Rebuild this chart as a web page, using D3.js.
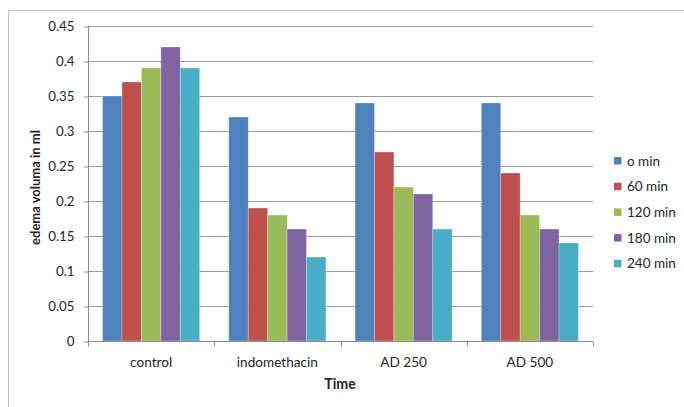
<!DOCTYPE html>
<html>
<head>
<meta charset="utf-8">
<script src="https://cdn.jsdelivr.net/npm/d3@7"></script>
<style>
  html, body { margin: 0; padding: 0; background: #fff; }
  svg { display: block; }
  text { font-family: Lato, "Open Sans", "Liberation Sans", sans-serif; fill: #262626; }
</style>
</head>
<body>
<svg id="chart" width="684" height="407"></svg>
<script>
// Edema volume per treatment group, measured at five time points
const groups = ["control", "indomethacin", "AD 250", "AD 500"];
const seriesNames = ["o min", "60 min", "120 min", "180 min", "240 min"];
const seriesColors = ["#4F81BD", "#C0504D", "#9BBB59", "#8064A2", "#4BACC6"];
const min0 = [0.35, 0.32, 0.34, 0.34];
const min60 = [0.37, 0.19, 0.27, 0.24];
const min120 = [0.39, 0.18, 0.22, 0.18];
const min180 = [0.42, 0.16, 0.21, 0.16];
const min240 = [0.39, 0.12, 0.16, 0.14];
const yTicks = [0, 0.05, 0.1, 0.15, 0.2, 0.25, 0.3, 0.35, 0.4, 0.45];

const seriesValues = [min0, min60, min120, min180, min240];

const svg = d3.select("#chart");

// outer chart frame (runs off the right and bottom edges)
svg.append("rect")
  .attr("x", 8.5).attr("y", 10.5)
  .attr("width", 700).attr("height", 420)
  .attr("fill", "#fff").attr("stroke", "#bcbcbc");

const plot = { left: 88, right: 593, top: 26, bottom: 341 };

const x0 = d3.scaleBand().domain(groups).range([plot.left, plot.right]).padding(0);
const gapFrac = 1.5 / (seriesNames.length + 1.5) / 2;
const x1 = d3.scaleBand().domain(seriesNames)
  .range([x0.bandwidth() * gapFrac, x0.bandwidth() * (1 - gapFrac)]).padding(0);
const y = d3.scaleLinear().domain([0, 0.45]).range([plot.bottom, plot.top]);

// horizontal gridlines
svg.append("g").selectAll("line")
  .data(yTicks.filter(d => d > 0))
  .join("line")
  .attr("x1", plot.left).attr("x2", plot.right)
  .attr("y1", d => Math.round(y(d)) + 0.5).attr("y2", d => Math.round(y(d)) + 0.5)
  .attr("stroke", "#9a9a9a").attr("stroke-width", 1);

// bars
const gGroups = svg.append("g").selectAll("g")
  .data(groups)
  .join("g")
  .attr("transform", d => `translate(${x0(d)},0)`);

gGroups.selectAll("rect")
  .data((g, gi) => seriesNames.map((s, si) => ({ s, si, v: seriesValues[si][gi] })))
  .join("rect")
  .attr("x", d => x1(d.s))
  .attr("y", d => y(d.v))
  .attr("width", x1.bandwidth())
  .attr("height", d => y(0) - y(d.v))
  .attr("fill", d => seriesColors[d.si])
  .attr("stroke", "rgba(255,255,255,0.35)")
  .attr("stroke-width", 0.8);

// y axis
const yAxis = d3.axisLeft(y).tickValues(yTicks)
  .tickFormat(d => d === 0 ? "0" : String(+d.toFixed(2)))
  .tickSize(5).tickPadding(9);
const gy = svg.append("g")
  .attr("transform", `translate(${plot.left + 0.5},0)`)
  .call(yAxis);
gy.selectAll(".tick line").attr("stroke", "#8c8c8c").attr("transform", "translate(0,0.5)");
gy.select(".domain").attr("stroke", "#8c8c8c").attr("d", `M0,${plot.top}V${plot.bottom + 5}`);
gy.selectAll("text").attr("font-size", 13.3).attr("fill", "#262626")
  .attr("font-family", 'Lato, "Open Sans", sans-serif');

// x axis with category boundary ticks
const gx = svg.append("g").attr("transform", `translate(0,${plot.bottom + 0.5})`);
gx.append("line")
  .attr("x1", plot.left).attr("x2", plot.right)
  .attr("stroke", "#8c8c8c");
const bounds = groups.map(g => x0(g)).concat([plot.right]);
gx.selectAll("line.b").data(bounds).join("line").attr("class", "b")
  .attr("x1", d => Math.round(d) + 0.5).attr("x2", d => Math.round(d) + 0.5)
  .attr("y1", 0).attr("y2", 5)
  .attr("stroke", "#8c8c8c");
gx.selectAll("text").data(groups).join("text")
  .attr("x", d => x0(d) + x0.bandwidth() / 2)
  .attr("y", 25.5)
  .attr("text-anchor", "middle")
  .attr("font-size", 13.6)
  .text(d => d);

// axis titles
svg.append("text")
  .attr("x", (plot.left + plot.right) / 2 - 0.5)
  .attr("y", 389)
  .attr("text-anchor", "middle")
  .attr("font-size", 14.2).attr("font-weight", "bold")
  .text("Time");
svg.append("text")
  .attr("transform", `translate(39.5,${(plot.top + plot.bottom) / 2 + 4}) rotate(-90)`)
  .attr("text-anchor", "middle")
  .attr("font-size", 13).attr("font-weight", "bold")
  .text("edema voluma in ml");

// legend
const legend = svg.append("g").attr("transform", "translate(614,157)");
const items = legend.selectAll("g").data(seriesNames).join("g")
  .attr("transform", (d, i) => `translate(0,${i * 25.7})`);
items.append("rect")
  .attr("width", 7.5).attr("height", 7.5)
  .attr("fill", (d, i) => seriesColors[i]);
items.append("text")
  .attr("x", 13).attr("y", 8.5)
  .attr("font-size", 13.5)
  .text(d => d);
</script>
</body>
</html>
